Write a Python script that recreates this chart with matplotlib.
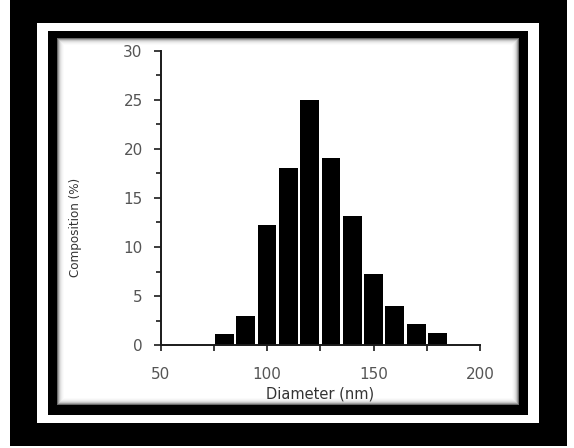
import matplotlib
matplotlib.use("Agg")
import matplotlib.pyplot as plt
from matplotlib.patches import Rectangle
from matplotlib.ticker import MultipleLocator, FixedLocator

# Data
diameter_centers = [80, 90, 100, 110, 120, 130, 140, 150, 160, 170, 180]
composition = [1.1, 3.0, 12.2, 18.1, 25.0, 19.1, 13.2, 7.2, 4.0, 2.1, 1.2]
x_major_ticks = [50, 100, 150, 200]
x_minor_ticks = [75, 125, 175]
y_major_ticks = [0, 5, 10, 15, 20, 25, 30]

W, H = 574, 448
fig = plt.figure(figsize=(W / 100, H / 100), dpi=100)
fig.patch.set_facecolor("white")

def prect(x0, ytop, x1, ybot, color, z):
    # pixel coords with y measured from the top
    fig.patches.append(Rectangle((x0 / W, (H - ybot) / H), (x1 - x0) / W,
                                 (ybot - ytop) / H, transform=fig.transFigure,
                                 facecolor=color, edgecolor="none", zorder=z))

prect(10, 0, 567, 446, "black", 0)
prect(37, 23, 539, 423, "white", 0.1)
prect(48, 31, 528, 415, "black", 0.2)
# soft shadow inside the inner frame
shades = ["#6a6a6a", "#a0a0a0", "#c6c6c6", "#dedede", "#ececec", "#f5f5f5", "#fbfbfb", "white"]
for i, c in enumerate(shades):
    prect(57 + i, 38 + i, 519 - i, 405 - i, c, 0.3 + 0.01 * i)

ax = fig.add_axes([160.7 / W, (H - 345) / H, 319.3 / W, 294 / H])
ax.set_zorder(5)
ax.set_facecolor("none")
ax.bar(diameter_centers, composition, width=8.8, color="black", edgecolor="none", zorder=2)

ax.set_xlim(50, 200)
ax.set_ylim(0, 30)
ax.xaxis.set_major_locator(FixedLocator(x_major_ticks))
ax.xaxis.set_minor_locator(FixedLocator(x_minor_ticks))
ax.yaxis.set_major_locator(FixedLocator(y_major_ticks))
ax.yaxis.set_minor_locator(MultipleLocator(2.5))

for s in ["top", "right"]:
    ax.spines[s].set_visible(False)
for s in ["left", "bottom"]:
    ax.spines[s].set_linewidth(1.4)
    ax.spines[s].set_color("#1a1a1a")

tick_color = "#555555"
ax.tick_params(axis="x", which="both", direction="out", length=4, width=1.2,
               color="#1a1a1a")
ax.tick_params(axis="x", which="major", pad=12, labelsize=11, labelcolor=tick_color)
ax.tick_params(axis="y", which="major", direction="out", length=5, width=1.2,
               color="#1a1a1a", pad=8, labelsize=11, labelcolor=tick_color)
ax.tick_params(axis="y", which="minor", direction="out", length=3.5, width=1.2,
               color="#1a1a1a")

ax.set_xlabel("Diameter (nm)", fontsize=10.5, color="#333333", labelpad=3)
ax.set_ylabel("Composition (%)", fontsize=9.5, color="#333333", fontstretch="condensed")
ax.yaxis.set_label_coords(-0.245, 0.4)

fig.savefig("out.png", dpi=100, facecolor=fig.get_facecolor())
